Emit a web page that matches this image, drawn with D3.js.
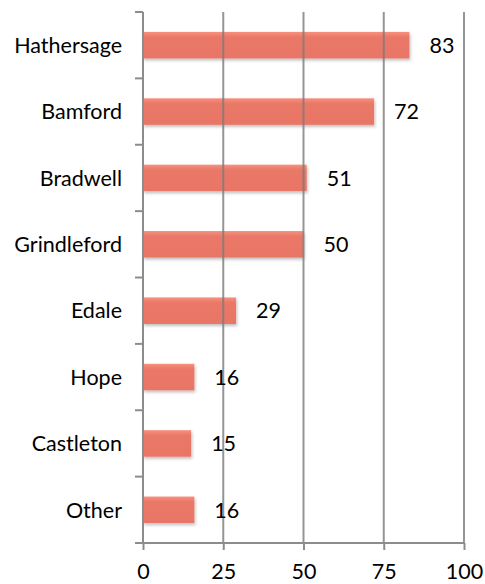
<!DOCTYPE html>
<html>
<head>
<meta charset="utf-8">
<script src="https://cdn.jsdelivr.net/npm/d3@7"></script>
<style>
  body { margin: 0; background: #fff; }
  text { font-family: Lato, "Open Sans", sans-serif; fill: #000; }
</style>
</head>
<body>
<svg id="chart" width="485" height="584"></svg>
<script>
// data
var villages = ["Hathersage", "Bamford", "Bradwell", "Grindleford", "Edale", "Hope", "Castleton", "Other"];
var counts = [83, 72, 51, 50, 29, 16, 15, 16];
var ticks = [0, 25, 50, 75, 100];

var svg = d3.select("#chart");
var margin = {top: 12, right: 21, bottom: 41, left: 143};
var width = 485 - margin.left - margin.right;
var height = 584 - margin.top - margin.bottom;
var fontSize = "21.5px";

var x = d3.scaleLinear().domain([0, 100]).range([0, width]);
var y = d3.scaleBand().domain(villages).range([0, height]).paddingInner(0.6).paddingOuter(0.3);

var defs = svg.append("defs");
var grad = defs.append("linearGradient").attr("id", "barfill")
    .attr("x1", 0).attr("y1", 0).attr("x2", 0).attr("y2", 1);
grad.append("stop").attr("offset", "0%").attr("stop-color", "#f7907f");
grad.append("stop").attr("offset", "20%").attr("stop-color", "#ea7867");
grad.append("stop").attr("offset", "100%").attr("stop-color", "#e87565");
var shadow = defs.append("filter").attr("id", "shadow")
    .attr("x", "-10%").attr("y", "-20%").attr("width", "130%").attr("height", "160%");
shadow.append("feDropShadow").attr("dx", 1).attr("dy", 2).attr("stdDeviation", 1.5)
    .attr("flood-color", "#000").attr("flood-opacity", 0.25);

var g = svg.append("g").attr("transform", "translate(" + margin.left + "," + margin.top + ")");

// bars
g.selectAll(".bar")
    .data(counts)
    .enter()
    .append("rect")
    .attr("class", "bar")
    .attr("x", 0)
    .attr("y", function(d, i) { return y(villages[i]); })
    .attr("width", function(d) { return x(d); })
    .attr("height", y.bandwidth())
    .attr("fill", "url(#barfill)")
    .attr("filter", "url(#shadow)");

// gridlines on top, semi transparent
g.selectAll(".grid")
    .data(ticks.slice(1))
    .enter()
    .append("line")
    .attr("x1", function(d) { return x(d); })
    .attr("x2", function(d) { return x(d); })
    .attr("y1", 0)
    .attr("y2", height)
    .attr("stroke", "#7a7a7a")
    .attr("stroke-opacity", 0.8)
    .attr("stroke-width", 2);

// value labels
g.selectAll(".val")
    .data(counts)
    .enter()
    .append("text")
    .attr("x", function(d) { return x(d) + 20; })
    .attr("y", function(d, i) { return y(villages[i]) + y.bandwidth() / 2; })
    .attr("dy", "0.36em")
    .style("font-size", fontSize)
    .text(function(d) { return d; });

// x axis
var xAxis = g.append("g").attr("transform", "translate(0," + height + ")")
    .call(d3.axisBottom(x).tickValues(ticks).tickSize(7).tickPadding(14));
xAxis.select(".domain").attr("stroke", "#8c8c8c").attr("stroke-width", 2)
    .attr("d", "M-8,0H" + width);
xAxis.selectAll(".tick line").attr("stroke", "#8c8c8c").attr("stroke-width", 2);
xAxis.selectAll(".tick text").style("font-size", fontSize).attr("fill", "#000");

// y axis
var yTicks = d3.range(villages.length + 1).map(function(i) { return i * height / villages.length; });
g.append("line").attr("x1", 0).attr("x2", 0).attr("y1", 0).attr("y2", height)
    .attr("stroke", "#8c8c8c").attr("stroke-width", 2);
g.selectAll(".ytick")
    .data(yTicks.slice(0, villages.length))
    .enter()
    .append("line")
    .attr("x1", -8).attr("x2", 0)
    .attr("y1", function(d) { return d; })
    .attr("y2", function(d) { return d; })
    .attr("stroke", "#8c8c8c").attr("stroke-width", 2);

g.selectAll(".cat")
    .data(villages)
    .enter()
    .append("text")
    .attr("x", -21)
    .attr("y", function(d) { return y(d) + y.bandwidth() / 2; })
    .attr("dy", "0.36em")
    .attr("text-anchor", "end")
    .style("font-size", fontSize)
    .text(function(d) { return d; });
</script>
</body>
</html>
